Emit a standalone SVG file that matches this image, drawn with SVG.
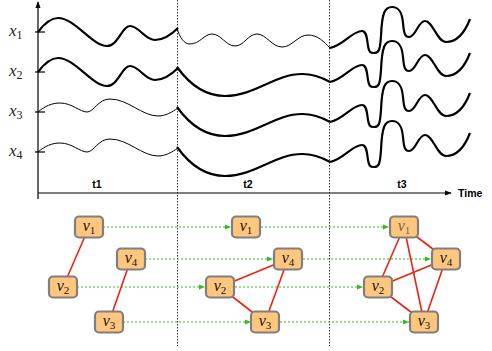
<svg xmlns="http://www.w3.org/2000/svg" xmlns:xlink="http://www.w3.org/1999/xlink" width="492" height="351" viewBox="0 0 492 351">
<style>
.axis{stroke:#000;stroke-width:1.2;fill:none}
.sep{stroke:#333;stroke-width:1;stroke-dasharray:1.5,1.5;fill:none}
.thick{stroke:#000;stroke-width:2.2;fill:none;stroke-linejoin:round}
.thin{stroke:#000;stroke-width:1;fill:none}
.lbl{font-family:"Liberation Sans",Arial,sans-serif;font-weight:bold;font-size:10.5px;fill:#000}
.math{font-family:"Liberation Serif","DejaVu Serif",serif;font-style:italic;font-size:17px;fill:#222}
.sub{font-style:normal;font-size:12px}
.node rect{fill:#FFC77E;stroke:#7F7F7F;stroke-width:2.2}
.node text{font-family:"Liberation Serif","DejaVu Serif",serif;font-style:italic;font-size:16px;fill:#111;text-anchor:middle}
.node text tspan{font-style:normal;font-size:11px}
.red{stroke:#EE2211;stroke-width:1.6}
.grn{stroke:#33BB22;stroke-width:1.1;stroke-dasharray:2,2;marker-end:url(#ga)}
</style>
<defs>
<marker id="ga" viewBox="0 0 6 6" refX="6" refY="3" markerWidth="6" markerHeight="6" markerUnits="userSpaceOnUse" orient="auto">
<path d="M0,0.5 L6,3 L0,5.5 Z" fill="#33BB22"/>
</marker>
<marker id="ka" viewBox="0 0 8 8" refX="7" refY="4" markerWidth="7" markerHeight="7" markerUnits="userSpaceOnUse" orient="auto">
<path d="M0,1 L8,4 L0,7 Z" fill="#000"/>
</marker>
<path id="w1" d="M38,32 C44,24 50,18 58,18 C75,18 92,46 107,46 C118,46 122,26 130,26 C139,26 145,40 155,40 C165,40 172,34 178,28"/>
<path id="w3" d="M38,112 C45,106 52,103 60,103 C72,103 80,112 87,112 C94,112 98,99 110,99 C128,99 142,116 158,116 C166,116 172,112 178,108"/>
<path id="t2a" d="M177,28 C180,38 184,44 190,44 C200,44 204,34 212,34 C221,34 226,46 235,46 C244,46 248,34 257,34 C266,34 272,47 282,47 C292,47 298,35 308,35 C318,35 324,42 330,48"/>
<path id="t2b" d="M177,67 C190,85 205,96 225,96 C255,96 275,74 302,74 C315,74 323,78 330,82"/>
<path id="t3" d="M330,0 C344,-3 352,-17 362,-17 C367,-17 367,-8 368,-2 C369,4 370,5 374,5 C379,5 380,2 381,-12 C382,-36 385,-41 392,-41 C399,-41 402,-36 403,-25 C404,-14 405,-11 409,-11 C416,-11 418,-27 425,-27 C433,-27 437,-6 446,-6 C457,-6 465,-16 470,-29"/>
</defs>

<g id="axes">
<line class="axis" x1="38" y1="199" x2="38" y2="2" marker-end="url(#ka)"/>
<line class="axis" x1="38" y1="193" x2="451" y2="193" marker-end="url(#ka)"/>
<line class="axis" x1="35" y1="32" x2="45" y2="32"/>
<line class="axis" x1="35" y1="72" x2="45" y2="72"/>
<line class="axis" x1="35" y1="112" x2="45" y2="112"/>
<line class="axis" x1="35" y1="152" x2="45" y2="152"/>
<line class="sep" x1="177.5" y1="0" x2="177.5" y2="346"/>
<line class="sep" x1="329.5" y1="0" x2="329.5" y2="346"/>
<text class="lbl" x="458" y="197" font-size="11">Time</text>
<text class="lbl" x="97" y="188" text-anchor="middle">t1</text>
<text class="lbl" x="248" y="188" text-anchor="middle">t2</text>
<text class="lbl" x="402" y="188" text-anchor="middle">t3</text>
<text class="math" x="9" y="36">x<tspan class="sub" dy="3">1</tspan></text>
<text class="math" x="9" y="76">x<tspan class="sub" dy="3">2</tspan></text>
<text class="math" x="9" y="116">x<tspan class="sub" dy="3">3</tspan></text>
<text class="math" x="9" y="156">x<tspan class="sub" dy="3">4</tspan></text>
</g>

<g id="signals">
<use xlink:href="#w1" class="thick"/>
<use xlink:href="#w1" class="thick" transform="translate(0,40)"/>
<use xlink:href="#w3" class="thin"/>
<use xlink:href="#w3" class="thin" transform="translate(0,40)"/>
<use xlink:href="#t2a" class="thin"/>
<use xlink:href="#t2b" class="thick"/>
<use xlink:href="#t2b" class="thick" transform="translate(0,40)"/>
<use xlink:href="#t2b" class="thick" transform="translate(0,80)"/>
<use xlink:href="#t3" class="thick" transform="translate(0,48)"/>
<use xlink:href="#t3" class="thick" transform="translate(0,82)"/>
<use xlink:href="#t3" class="thick" transform="translate(0,122)"/>
<use xlink:href="#t3" class="thick" transform="translate(0,162)"/>
</g>

<g id="connectors">
<line class="grn" x1="103" y1="227" x2="231" y2="227"/>
<line class="grn" x1="261" y1="227" x2="389" y2="227"/>
<line class="grn" x1="145" y1="259" x2="273" y2="259"/>
<line class="grn" x1="303" y1="259" x2="431" y2="259"/>
<line class="grn" x1="77" y1="287" x2="205" y2="287"/>
<line class="grn" x1="235" y1="287" x2="363" y2="287"/>
<line class="grn" x1="123" y1="322" x2="251" y2="322"/>
<line class="grn" x1="280" y1="322" x2="409" y2="322"/>
<line class="red" x1="89" y1="227" x2="63" y2="287"/>
<line class="red" x1="131" y1="259" x2="109" y2="322"/>
<line class="red" x1="220" y1="287" x2="288" y2="259"/>
<line class="red" x1="220" y1="287" x2="265" y2="322"/>
<line class="red" x1="288" y1="259" x2="265" y2="322"/>
<line class="red" x1="404" y1="227" x2="378" y2="287"/>
<line class="red" x1="404" y1="227" x2="446" y2="259"/>
<line class="red" x1="404" y1="227" x2="424" y2="322"/>
<line class="red" x1="378" y1="287" x2="446" y2="259"/>
<line class="red" x1="378" y1="287" x2="424" y2="322"/>
<line class="red" x1="446" y1="259" x2="424" y2="322"/>
</g>

<g id="t1-v1" class="node"><rect x="75" y="216.5" width="28" height="21" rx="4"/><text x="89" y="231">v<tspan dy="3">1</tspan></text></g>
<g id="t1-v4" class="node"><rect x="117" y="248.5" width="28" height="21" rx="4"/><text x="131" y="263">v<tspan dy="3">4</tspan></text></g>
<g id="t1-v2" class="node"><rect x="49" y="276.5" width="28" height="21" rx="4"/><text x="63" y="291">v<tspan dy="3">2</tspan></text></g>
<g id="t1-v3" class="node"><rect x="95" y="311.5" width="28" height="21" rx="4"/><text x="109" y="326">v<tspan dy="3">3</tspan></text></g>

<g id="t2-v1" class="node"><rect x="232" y="216.5" width="28" height="21" rx="4"/><text x="246" y="231">v<tspan dy="3">1</tspan></text></g>
<g id="t2-v4" class="node"><rect x="274" y="248.5" width="28" height="21" rx="4"/><text x="288" y="263">v<tspan dy="3">4</tspan></text></g>
<g id="t2-v2" class="node"><rect x="206" y="276.5" width="28" height="21" rx="4"/><text x="220" y="291">v<tspan dy="3">2</tspan></text></g>
<g id="t2-v3" class="node"><rect x="251" y="311.5" width="28" height="21" rx="4"/><text x="265" y="326">v<tspan dy="3">3</tspan></text></g>

<g id="t3-v1" class="node"><rect x="390" y="216.5" width="28" height="21" rx="4"/><text x="404" y="231" style="fill:#7a6648">v<tspan dy="3">1</tspan></text></g>
<g id="t3-v4" class="node"><rect x="432" y="248.5" width="28" height="21" rx="4"/><text x="446" y="263">v<tspan dy="3">4</tspan></text></g>
<g id="t3-v2" class="node"><rect x="364" y="276.5" width="28" height="21" rx="4"/><text x="378" y="291">v<tspan dy="3">2</tspan></text></g>
<g id="t3-v3" class="node"><rect x="410" y="311.5" width="28" height="21" rx="4"/><text x="424" y="326">v<tspan dy="3">3</tspan></text></g>
</svg>
